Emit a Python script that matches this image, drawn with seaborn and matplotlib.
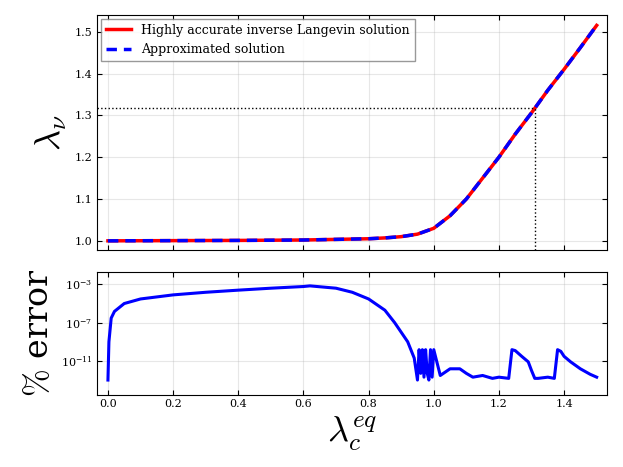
import numpy as np
import pandas as pd
import seaborn as sns
import matplotlib
matplotlib.use('Agg')
import matplotlib.pyplot as plt

# values
LAM_C = [0.0, 0.2, 0.4, 0.6, 0.8, 0.85, 0.9, 0.95, 1.0, 1.05, 1.1, 1.15,
         1.2, 1.25, 1.3, 1.35, 1.4, 1.45, 1.5]
LAM_NU = [1.0, 1.0005, 1.001, 1.002, 1.005, 1.007, 1.010, 1.016, 1.03, 1.06,
          1.10, 1.15, 1.20, 1.255, 1.306, 1.36, 1.41, 1.462, 1.515]

ERR_X = [0.0, 0.003, 0.01, 0.02, 0.05, 0.1, 0.2, 0.3, 0.4, 0.5, 0.6, 0.62,
         0.7, 0.75, 0.8, 0.85, 0.88, 0.9, 0.92, 0.94, 0.95, 0.955, 0.96, 0.965,
         0.97, 0.975, 0.98, 0.985, 0.99, 0.995, 1.0, 1.02, 1.05, 1.08, 1.1,
         1.12, 1.15, 1.18, 1.2, 1.23, 1.24, 1.25, 1.27, 1.29, 1.3, 1.31, 1.32,
         1.35, 1.37, 1.38, 1.39, 1.4, 1.42, 1.45, 1.48, 1.5]
ERR_Y = [1e-13, 1e-9, 3e-7, 1.5e-6, 1e-5, 3e-5, 8e-5, 1.5e-4, 2.5e-4, 4e-4,
         6e-4, 7e-4, 4e-4, 1.5e-4, 3e-5, 2e-6, 1e-7, 1e-8, 1e-9, 2e-11,
         1e-13, 1.5e-10, 5e-13, 1.5e-10, 2e-13, 1.5e-10, 5e-13, 1e-13, 1.5e-10,
         2e-13, 1.5e-10, 3e-13, 1.5e-12, 1.5e-12, 5e-13, 2e-13, 3e-13, 1.5e-13,
         2e-13, 1.5e-13, 1.5e-10, 1.2e-10, 3e-11, 8e-12, 1e-12, 1.5e-13,
         1.5e-13, 2e-13, 1.5e-13, 1.5e-10, 1e-10, 3e-11, 8e-12, 1.5e-12,
         4e-13, 2e-13]

LAM_MARK = 1.31
NU_MARK = 1.317

plt.rcParams.update({'mathtext.fontset': 'cm', 'font.family': 'serif',
                     'font.serif': ['DejaVu Serif'],
                     'xtick.direction': 'in', 'ytick.direction': 'in',
                     'xtick.top': True, 'ytick.right': True})
df = pd.DataFrame({'x': LAM_C, 'y': LAM_NU})
err = pd.DataFrame({'x': ERR_X, 'y': ERR_Y})

fig, (ax1, ax2) = plt.subplots(2, 1, figsize=(6.23, 4.67), dpi=100, sharex=True,
                               gridspec_kw={'height_ratios': [240, 125], 'hspace': 0.12})
fig.subplots_adjust(left=0.156, right=0.975, top=0.968, bottom=0.155)

sns.lineplot(data=df, x='x', y='y', ax=ax1, color='red', lw=2.5,
             label='Highly accurate inverse Langevin solution')
sns.lineplot(data=df, x='x', y='y', ax=ax1, color='blue', lw=2.5, ls=(0, (3, 2)),
             label='Approximated solution')
ax1.set_xlim(-0.033, 1.533)
ax1.set_ylim(0.977, 1.54)
ax1.plot([-0.033, LAM_MARK], [NU_MARK, NU_MARK], 'k:', lw=1)
ax1.plot([LAM_MARK, LAM_MARK], [0.977, NU_MARK], 'k:', lw=1)
ax1.set_ylabel(r'$\lambda_\nu$', fontsize=26)
ax1.set_xlabel('')
ax1.grid(alpha=0.3)
ax1.legend(loc='upper left', fontsize=9, frameon=True, fancybox=False,
           edgecolor='gray', borderaxespad=0.3)

sns.lineplot(data=err, x='x', y='y', ax=ax2, color='blue', lw=2.2)
ax2.set_yscale('log')
ax2.set_ylim(3e-15, 2e-2)
ax2.set_yticks([1e-3, 1e-7, 1e-11])
ax2.set_yticks([], minor=True)
ax2.set_xticks([0.0, 0.2, 0.4, 0.6, 0.8, 1.0, 1.2, 1.4])
ax2.set_ylabel(r'$\%$ error', fontsize=24)
ax2.set_xlabel(r'$\lambda_c^{eq}$', fontsize=26)
ax2.grid(alpha=0.3)
for ax in (ax1, ax2):
    ax.tick_params(labelsize=8)

fig.savefig('out.png')
